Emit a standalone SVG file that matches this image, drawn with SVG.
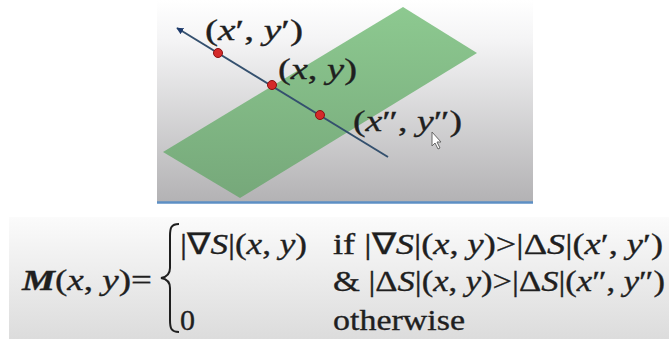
<svg xmlns="http://www.w3.org/2000/svg" width="669" height="339" viewBox="0 0 669 339">
<style>
.t{font-family:"Liberation Serif","Times New Roman",serif;fill:#1f1f1f;stroke:#1f1f1f;stroke-width:0.35}
.lbl{font-size:29px}
.eq{font-size:30px}
.i{font-style:italic}
.dot{fill:#d42a2a;stroke:#8a1010;stroke-width:1}
</style>
<defs>
<linearGradient id="bgTop" x1="0" y1="0" x2="0" y2="1">
<stop offset="0" stop-color="#ffffff"/>
<stop offset="0.2" stop-color="#f4f4f5"/>
<stop offset="1" stop-color="#b3b2b4"/>
</linearGradient>
<linearGradient id="bgEq" x1="0" y1="0" x2="0" y2="1">
<stop offset="0" stop-color="#fbfbfb"/>
<stop offset="1" stop-color="#dcdcdc"/>
</linearGradient>
<linearGradient id="greenG" x1="0" y1="0" x2="0" y2="1">
<stop offset="0" stop-color="#8dc990"/>
<stop offset="1" stop-color="#76a87a"/>
</linearGradient>
<marker id="arr" viewBox="0 0 10 10" refX="9" refY="5" markerWidth="7" markerHeight="7" orient="auto-start-reverse" markerUnits="userSpaceOnUse">
<path d="M0,0 L10,5 L0,10 z" fill="#1d3a6b"/>
</marker>
</defs>
<rect width="669" height="339" fill="#ffffff"/>
<g id="picture">
<rect x="157" y="0" width="376" height="202" fill="url(#bgTop)"/>
<line x1="157" y1="202.5" x2="533" y2="202.5" stroke="#5d8fc4" stroke-width="2.5"/>
</g>
<g id="band">
<polygon points="163,152 403,7 477,53 240,198" fill="url(#greenG)"/>
</g>
<g id="connectors">
<line x1="388" y1="157" x2="177" y2="28" stroke="#34506e" stroke-width="2" marker-end="url(#arr)"/>
</g>
<g id="points">
<circle class="dot" cx="218" cy="53" r="4.5"/>
<circle class="dot" cx="272" cy="85" r="4.5"/>
<circle class="dot" cx="320" cy="115" r="4.5"/>
</g>
<g id="label-prime">
<text class="t lbl" x="205" y="40" textLength="98" lengthAdjust="spacingAndGlyphs">(<tspan class="i">x</tspan>′, <tspan class="i">y</tspan>′)</text>
</g>
<g id="label-xy">
<text class="t lbl" x="278" y="79" textLength="79" lengthAdjust="spacingAndGlyphs">(<tspan class="i">x</tspan>, <tspan class="i">y</tspan>)</text>
</g>
<g id="label-dprime">
<text class="t lbl" x="353" y="131" textLength="109" lengthAdjust="spacingAndGlyphs">(<tspan class="i">x</tspan>″, <tspan class="i">y</tspan>″)</text>
</g>
<g id="cursor">
<path d="M432,132 L432,146 L435,143 L438,149 L440,148 L437,142 L441,142 Z" fill="#ffffff" stroke="#666" stroke-width="1"/>
</g>
<g id="formula">
<rect x="9" y="217" width="660" height="122" fill="url(#bgEq)"/>
<text class="t eq" x="22" y="290" textLength="130" lengthAdjust="spacingAndGlyphs"><tspan class="i" font-weight="bold">M</tspan>(<tspan class="i">x</tspan>, <tspan class="i">y</tspan>)=</text>
<path d="M179,224 C171,224 170,228 170,236 L170,268 C170,274 167,277 161,278 C167,279 170,282 170,288 L170,320 C170,328 171,332 179,332" fill="none" stroke="#1f1f1f" stroke-width="2"/>
<text class="t eq" x="180" y="254" textLength="127" lengthAdjust="spacingAndGlyphs">|∇<tspan class="i">S</tspan>|(<tspan class="i">x</tspan>, <tspan class="i">y</tspan>)</text>
<text class="t eq" x="333" y="254" textLength="330" lengthAdjust="spacingAndGlyphs">if |∇<tspan class="i">S</tspan>|(<tspan class="i">x</tspan>, <tspan class="i">y</tspan>)&gt;|Δ<tspan class="i">S</tspan>|(<tspan class="i">x</tspan>′, <tspan class="i">y</tspan>′)</text>
<text class="t eq" x="333" y="291" textLength="332" lengthAdjust="spacingAndGlyphs">&amp; |Δ<tspan class="i">S</tspan>|(<tspan class="i">x</tspan>, <tspan class="i">y</tspan>)&gt;|Δ<tspan class="i">S</tspan>|(<tspan class="i">x</tspan>″, <tspan class="i">y</tspan>″)</text>
<text class="t eq" x="180" y="330">0</text>
<text class="t eq" x="333" y="330" textLength="132" lengthAdjust="spacingAndGlyphs">otherwise</text>
</g>
</svg>
